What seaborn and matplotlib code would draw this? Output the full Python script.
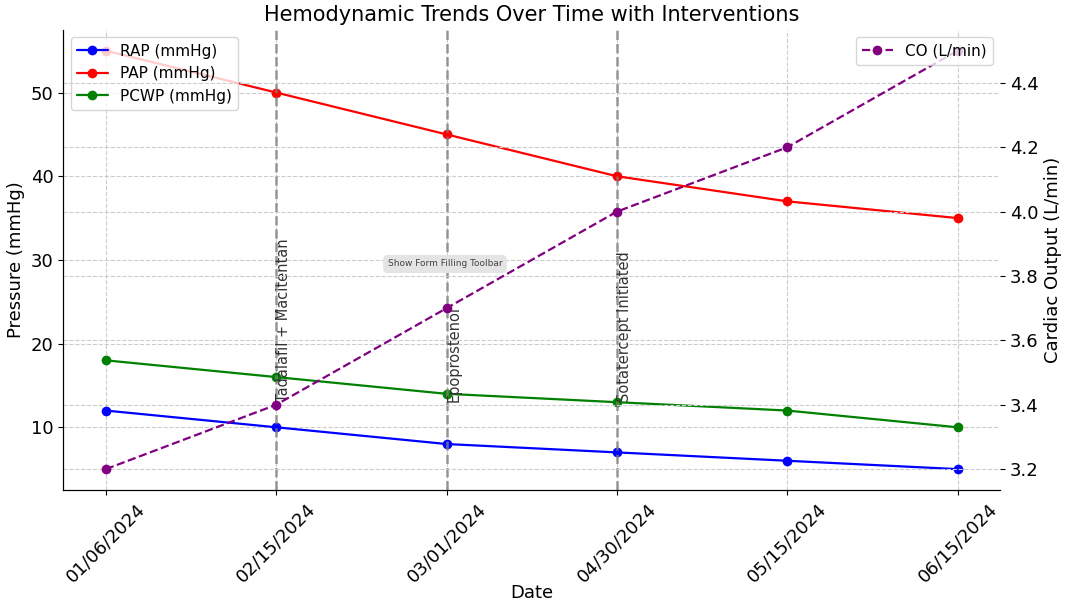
import matplotlib
matplotlib.use("Agg")
import matplotlib.pyplot as plt
import seaborn as sns
import pandas as pd

dates = ["01/06/2024", "02/15/2024", "03/01/2024", "04/30/2024", "05/15/2024", "06/15/2024"]
rap = [12, 10, 8, 7, 6, 5]
pap = [55, 50, 45, 40, 37, 35]
pcwp = [18, 16, 14, 13, 12, 10]
co = [3.2, 3.4, 3.7, 4.0, 4.2, 4.5]
interventions = [("02/15/2024", "Tadalafil + Macitentan"),
                 ("03/01/2024", "Epoprostenol"),
                 ("04/30/2024", "Sotatercept Initiated")]

sns.set_style("ticks")
plt.rcParams['font.family'] = ['DejaVu Sans']
plt.rcParams.update({"text.color": "black", "axes.labelcolor": "black",
                     "xtick.color": "black", "ytick.color": "black",
                     "axes.edgecolor": "black"})

df = pd.DataFrame({"Date": dates, "RAP": rap, "PAP": pap, "PCWP": pcwp, "CO": co})

fig = plt.figure(figsize=(10.72, 6.08), dpi=100)
ax = fig.add_axes([0.059, 0.194, 0.874, 0.757])

grid_kw = dict(color="#cccccc", linestyle="--", linewidth=0.8)
ax.grid(True, **grid_kw)
ax.set_axisbelow(True)

sns.lineplot(data=df, x="Date", y="RAP", ax=ax, color="blue", marker="o", markersize=7,
             markeredgewidth=0, linewidth=1.6, label="RAP (mmHg)", sort=False)
sns.lineplot(data=df, x="Date", y="PAP", ax=ax, color="red", marker="o", markersize=7,
             markeredgewidth=0, linewidth=1.6, label="PAP (mmHg)", sort=False)
sns.lineplot(data=df, x="Date", y="PCWP", ax=ax, color="green", marker="o", markersize=7,
             markeredgewidth=0, linewidth=1.6, label="PCWP (mmHg)", sort=False)

for d, lab in interventions:
    xi = dates.index(d)
    ax.axvline(xi, color="gray", linestyle="--", linewidth=1.8, alpha=0.8)
    ax.text(xi, 13, lab, rotation=90, ha="left", va="bottom", fontsize=10.5, color="#333333")

ax.set_xlabel("Date", fontsize=13, labelpad=-1)
ax.set_ylabel("Pressure (mmHg)", fontsize=13)
ax.tick_params(axis="both", labelsize=13)
plt.setp(ax.get_xticklabels(), rotation=45)
ax.set_title("Hemodynamic Trends Over Time with Interventions", fontsize=15)
ax.legend(loc="upper left", fontsize=11)

ax2 = ax.twinx()
ax2.grid(True, **grid_kw)
sns.lineplot(data=df, x="Date", y="CO", ax=ax2, color="purple", marker="o", markersize=7,
             markeredgewidth=0, linewidth=1.6, linestyle="--", label="CO (L/min)", sort=False)
ax2.set_ylabel("Cardiac Output (L/min)", fontsize=13)
ax2.tick_params(axis="y", labelsize=13)
ax2.legend(loc="upper right", fontsize=11)

for a in (ax, ax2):
    a.spines["top"].set_visible(False)
    a.spines["right"].set_visible(False)

fig.text(445 / 1072, 1 - 264 / 608, "Show Form Filling Toolbar", fontsize=6.5, color="#444444",
         ha="center", va="center",
         bbox=dict(boxstyle="round,pad=0.5", facecolor="#e4e4e4", edgecolor="none"))

fig.savefig("out.png", dpi=100)
